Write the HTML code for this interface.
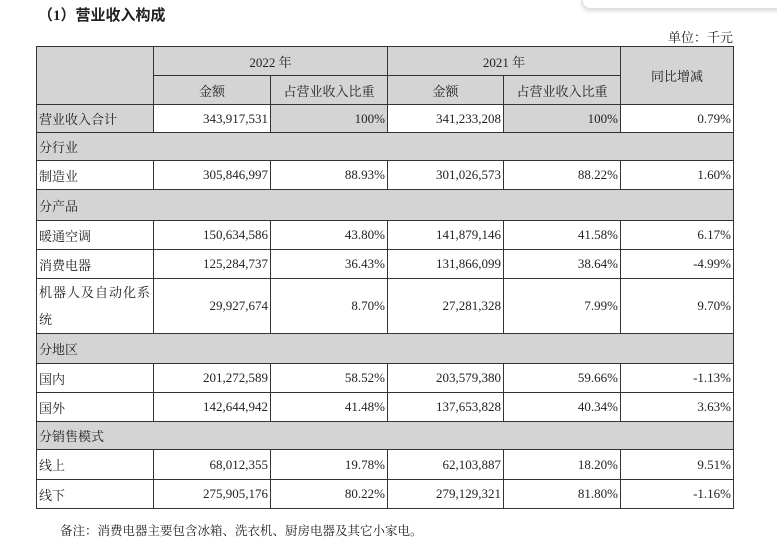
<!DOCTYPE html>
<html><head><meta charset="utf-8"><style>
body{margin:0;width:777px;height:549px;background:#fff;position:relative;overflow:hidden;font-family:"Liberation Serif","Noto Serif CJK SC",serif;color:#222;}
.title{position:absolute;left:38px;top:4px;font-size:15px;font-weight:bold;font-family:"Liberation Serif","Noto Sans CJK SC",serif;}
.unit{position:absolute;right:44px;top:27px;font-size:13px;}
.note{position:absolute;left:60px;top:521px;font-size:12.5px;}
.card{position:absolute;left:582px;top:-10px;width:200px;height:17px;border:1px solid #ddd;border-radius:8px;box-shadow:0 2px 4px rgba(0,0,0,.15);background:#fff;}
table{position:absolute;left:36px;top:46px;border-collapse:collapse;table-layout:fixed;font-size:13px;}
td{border:1px solid #333;padding:0 2px;white-space:nowrap;}
.g{background:#d4d4d4;}
.c{text-align:center;}
.r{text-align:right;}
.l{text-align:left;}
</style></head><body>
<div class="card"></div>
<div class="title">（1）营业收入构成</div>
<div class="unit">单位：千元</div>
<table>
<colgroup><col style="width:117px"><col style="width:117px"><col style="width:117px"><col style="width:116px"><col style="width:117px"><col style="width:113px"></colgroup>
<tr style="height:29px"><td class="g" rowspan="2"></td><td class="g c" colspan="2">2022 年</td><td class="g c" colspan="2">2021 年</td><td class="g c" rowspan="2">同比增减</td></tr>
<tr style="height:29px"><td class="g c">金额</td><td class="g c">占营业收入比重</td><td class="g c">金额</td><td class="g c">占营业收入比重</td></tr>
<tr style="height:28px"><td class="g l">营业收入合计</td><td class="r">343,917,531</td><td class="g r">100%</td><td class="r">341,233,208</td><td class="g r">100%</td><td class="r">0.79%</td></tr>
<tr style="height:28px"><td class="g l" colspan="6">分行业</td></tr>
<tr style="height:29px"><td class="l">制造业</td><td class="r">305,846,997</td><td class="r">88.93%</td><td class="r">301,026,573</td><td class="r">88.22%</td><td class="r">1.60%</td></tr>
<tr style="height:31px"><td class="g l" colspan="6">分产品</td></tr>
<tr style="height:29px"><td class="l">暖通空调</td><td class="r">150,634,586</td><td class="r">43.80%</td><td class="r">141,879,146</td><td class="r">41.58%</td><td class="r">6.17%</td></tr>
<tr style="height:29px"><td class="l">消费电器</td><td class="r">125,284,737</td><td class="r">36.43%</td><td class="r">131,866,099</td><td class="r">38.64%</td><td class="r">-4.99%</td></tr>
<tr style="height:55px"><td class="l" style="white-space:normal;line-height:27px;letter-spacing:1px">机器人及自动化系统</td><td class="r">29,927,674</td><td class="r">8.70%</td><td class="r">27,281,328</td><td class="r">7.99%</td><td class="r">9.70%</td></tr>
<tr style="height:30px"><td class="g l" colspan="6">分地区</td></tr>
<tr style="height:29px"><td class="l">国内</td><td class="r">201,272,589</td><td class="r">58.52%</td><td class="r">203,579,380</td><td class="r">59.66%</td><td class="r">-1.13%</td></tr>
<tr style="height:29px"><td class="l">国外</td><td class="r">142,644,942</td><td class="r">41.48%</td><td class="r">137,653,828</td><td class="r">40.34%</td><td class="r">3.63%</td></tr>
<tr style="height:28px"><td class="g l" colspan="6">分销售模式</td></tr>
<tr style="height:30px"><td class="l">线上</td><td class="r">68,012,355</td><td class="r">19.78%</td><td class="r">62,103,887</td><td class="r">18.20%</td><td class="r">9.51%</td></tr>
<tr style="height:29px"><td class="l">线下</td><td class="r">275,905,176</td><td class="r">80.22%</td><td class="r">279,129,321</td><td class="r">81.80%</td><td class="r">-1.16%</td></tr>
</table>
<div class="note">备注：消费电器主要包含冰箱、洗衣机、厨房电器及其它小家电。</div>
</body></html>
